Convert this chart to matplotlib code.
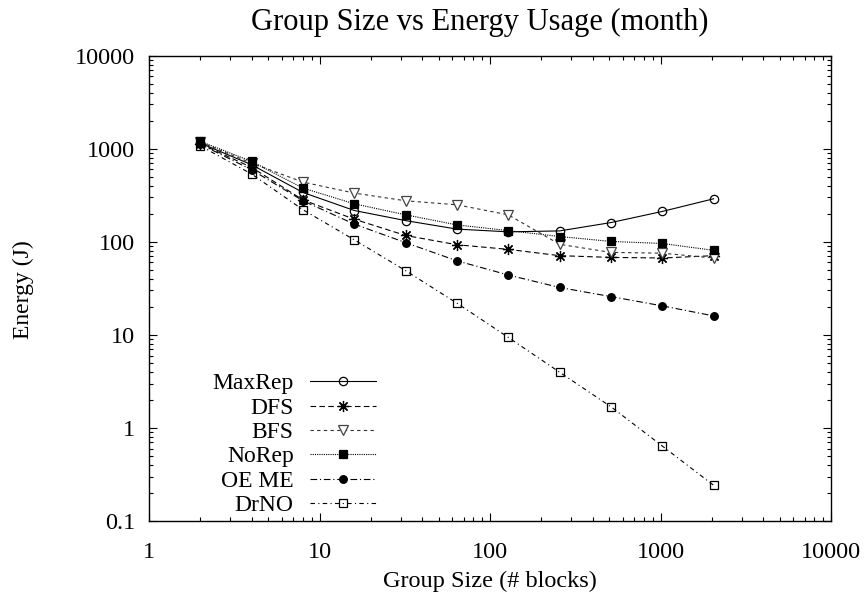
import matplotlib
matplotlib.use("Agg")
import matplotlib.pyplot as plt
from matplotlib.ticker import LogLocator, FixedLocator, FixedFormatter, NullFormatter

plt.rcParams['font.family'] = ['Liberation Serif', 'DejaVu Serif']

# Group sizes (number of blocks)
group_size = [2, 4, 8, 16, 32, 64, 128, 256, 512, 1024, 2048]

# Energy usage per strategy (J)
maxrep = [1150, 673, 339, 217, 169, 137, 128, 131, 161, 212, 290]
dfs = [1130, 630, 282, 175, 117, 93, 83, 71, 68, 67, 71]
bfs = [1180, 700, 438, 334, 276, 250, 195, 94, 77, 75.5, 67]
norep = [1200, 731, 378, 256, 195, 152, 132, 114, 101, 96, 81]
oe_me = [1120, 594, 276, 155, 98, 62.5, 44, 32.3, 25.8, 20.5, 16]
drno = [1075, 535, 221, 105, 49, 21.9, 9.4, 3.97, 1.69, 0.64, 0.242]

x_ticks = [1, 10, 100, 1000, 10000]
x_tick_labels = ['1', '10', '100', '1000', '10000']
y_ticks = [0.1, 1, 10, 100, 1000, 10000]
y_tick_labels = ['0.1', '1', '10', '100', '1000', '10000']

fig = plt.figure(figsize=(8.67, 5.99), dpi=100)
ax = fig.add_axes([149 / 867, 1 - 521 / 599, (831 - 149) / 867, (521 - 55.7) / 599])

lw = 0.8
star = (8, 2, 0)

series = [
    ("MaxRep", maxrep, dict(linestyle='-', marker='o', markersize=6,
                            markerfacecolor='none', markeredgecolor='black')),
    ("DFS", dfs, dict(linestyle=(0, (5, 3)), marker=star, markersize=8,
                      markeredgecolor='black')),
    ("BFS", bfs, dict(linestyle=(0, (3, 3)), marker='v', markersize=6.5,
                      markerfacecolor='white', markeredgecolor='#444444',
                      color='#333333')),
    ("NoRep", norep, dict(linestyle=(0, (1, 1)), marker='s', markersize=6,
                          markerfacecolor='black', markeredgecolor='black')),
    ("OE ME", oe_me, dict(linestyle=(0, (6, 2.5, 1, 2.5)), marker='o', markersize=5.5,
                          markerfacecolor='black', markeredgecolor='black')),
    ("DrNO", drno, dict(linestyle=(0, (4, 3, 1, 3)), marker='s', markersize=6,
                        markerfacecolor='none', markeredgecolor='black')),
]

for name, values, style in series:
    kw = dict(color='black', linewidth=lw, markeredgewidth=0.9)
    kw.update(style)
    ax.plot(group_size, values, label=name, **kw)

ax.set_xscale('log')
ax.set_yscale('log')
ax.set_xlim(1, 10000)
ax.set_ylim(0.1, 10000)

ax.xaxis.set_major_locator(FixedLocator(x_ticks))
ax.xaxis.set_major_formatter(FixedFormatter(x_tick_labels))
ax.yaxis.set_major_locator(FixedLocator(y_ticks))
ax.yaxis.set_major_formatter(FixedFormatter(y_tick_labels))
ax.xaxis.set_minor_locator(LogLocator(base=10, subs=range(2, 10), numticks=20))
ax.yaxis.set_minor_locator(LogLocator(base=10, subs=range(2, 10), numticks=20))
ax.xaxis.set_minor_formatter(NullFormatter())
ax.yaxis.set_minor_formatter(NullFormatter())

ax.tick_params(which='both', direction='in', top=True, right=True, width=0.8)
ax.tick_params(which='major', length=6, labelsize=17.5)
ax.tick_params(which='minor', length=3)
ax.tick_params(axis='x', which='major', pad=15)
ax.tick_params(axis='y', which='major', pad=10)
for spine in ax.spines.values():
    spine.set_linewidth(1.0)

fig.text(480 / 867, 1 - 22 / 599, "Group Size vs Energy Usage (month)",
         ha='center', va='center', fontsize=22)
fig.text(23 / 867, 1 - 290 / 599, "Energy (J)", rotation=90,
         ha='center', va='center', fontsize=17)
fig.text(490 / 867, 1 - 581 / 599, "Group Size (# blocks)",
         ha='center', va='center', fontsize=17.5)

leg = ax.legend(loc='lower right', bbox_to_anchor=(0.3466, -0.01), frameon=False,
                markerfirst=False, fontsize=17, handlelength=2.8,
                handletextpad=0.68, labelspacing=0.12, borderaxespad=0)

fig.savefig("out.png", dpi=100)
